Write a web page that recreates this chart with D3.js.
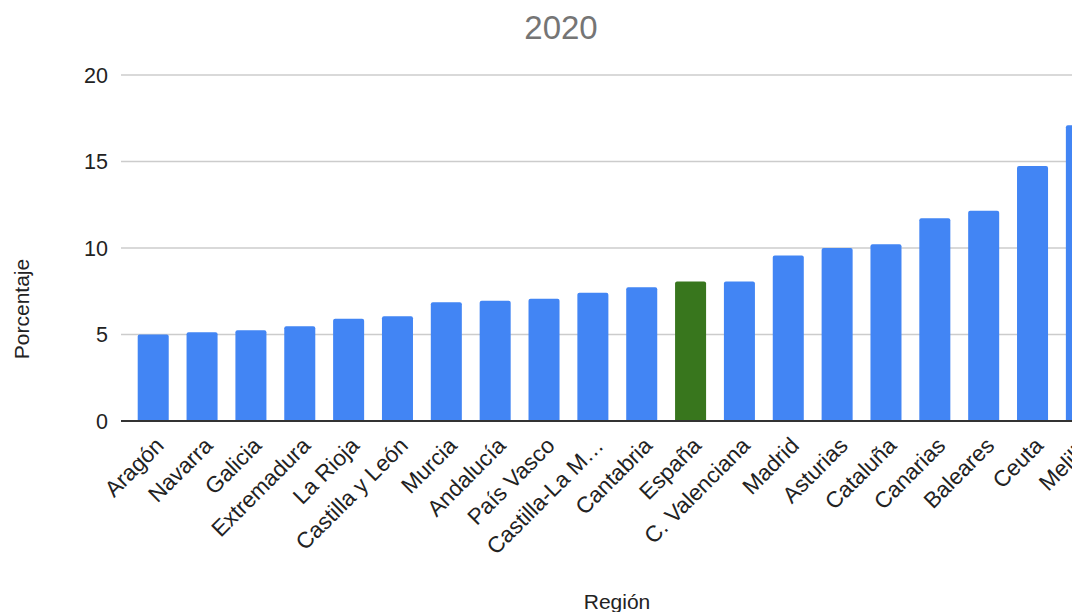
<!DOCTYPE html>
<html><head><meta charset="utf-8">
<script src="https://cdn.jsdelivr.net/npm/d3@7"></script>
<style>body{margin:0;background:#fff}svg{display:block;font-family:"Liberation Sans",Arial,sans-serif}</style>
</head><body><svg id="c" width="1072" height="612"></svg>
<script>
const categories = ["Aragón","Navarra","Galicia","Extremadura","La Rioja","Castilla y León","Murcia","Andalucía","País Vasco","Castilla-La M…","Cantabria","España","C. Valenciana","Madrid","Asturias","Cataluña","Canarias","Baleares","Ceuta","Melilla"];
const values = [5.0,5.13,5.24,5.47,5.91,6.05,6.86,6.95,7.07,7.42,7.73,8.07,8.07,9.56,10.0,10.21,11.72,12.16,14.74,17.1];
const yTicks = [0,5,10,15,20];
const highlight = "España";

const svg = d3.select("#c");
const x = d3.scaleBand().domain(categories).range([121, 1113.6]).paddingInner(0.365).paddingOuter(0.342);
const y = d3.scaleLinear().domain([0,20]).range([421,75]);

// gridlines
svg.append("g").selectAll("line").data(yTicks.filter(d=>d>0)).join("line")
  .attr("x1",121).attr("x2",1072).attr("y1",d=>y(d)).attr("y2",d=>y(d))
  .attr("stroke","#cccccc").attr("stroke-width",1.3);

// y tick labels
svg.append("g").selectAll("text").data(yTicks).join("text")
  .attr("x",108).attr("y",d=>y(d)).attr("dy","0.36em").attr("text-anchor","end")
  .attr("font-size",21.5).attr("fill","#222").text(d=>d);

// bars with rounded top corners
const r = 2;
svg.append("g").selectAll("path").data(categories).join("path")
  .attr("fill",d=>d===highlight?"#38761d":"#4285f4")
  .attr("d",(d,i)=>{
    const x0=x(d), w=x.bandwidth(), y0=y(values[i]), yb=y(0);
    return `M${x0},${yb}V${y0+r}Q${x0},${y0} ${x0+r},${y0}H${x0+w-r}Q${x0+w},${y0} ${x0+w},${y0+r}V${yb}Z`;
  });

// baseline
svg.append("line").attr("x1",121).attr("x2",1072).attr("y1",y(0)).attr("y2",y(0))
  .attr("stroke","#333").attr("stroke-width",2);

// x labels
svg.append("g").selectAll("text").data(categories).join("text")
  .attr("transform",d=>`translate(${x(d)+x.bandwidth()/2+12},${y(0)+26}) rotate(-45)`)
  .attr("text-anchor","end").attr("font-size",22.5).attr("fill","#222").text(d=>d);

// title
svg.append("text").attr("x",561).attr("y",39).attr("text-anchor","middle")
  .attr("font-size",33).attr("fill","#757575").text("2020");

// axis titles
svg.append("text").attr("transform","translate(29,309) rotate(-90)").attr("text-anchor","middle")
  .attr("font-size",21).attr("fill","#222").text("Porcentaje");
svg.append("text").attr("x",617).attr("y",609).attr("text-anchor","middle")
  .attr("font-size",21).attr("fill","#222").text("Región");
</script></body></html>
